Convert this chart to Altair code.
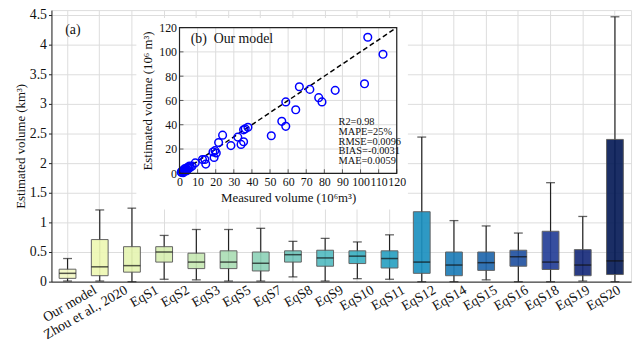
import altair as alt
import pandas as pd
import json

# ---- main box plot data (km^3) ----
cats = ["Our model", "Zhou et al., 2020", "EqS1", "EqS2", "EqS3", "EqS5", "EqS7", "EqS8",
        "EqS9", "EqS10", "EqS11", "EqS12", "EqS14", "EqS15", "EqS16", "EqS18", "EqS19", "EqS20"]
lo = [0.01, 0.01, 0.0, 0.04, 0.03, 0.01, 0.01, 0.08, 0.01, 0.05, 0.04, 0.0, 0.0, 0.03, 0.0, 0.0, 0.01, 0.0]
q1 = [0.055, 0.10, 0.16, 0.33, 0.22, 0.22, 0.18, 0.33, 0.26, 0.305, 0.23, 0.14, 0.10, 0.19, 0.26, 0.205, 0.10, 0.12]
med = [0.14, 0.25, 0.27, 0.50, 0.33, 0.33, 0.31, 0.455, 0.40, 0.43, 0.39, 0.33, 0.28, 0.32, 0.42, 0.33, 0.28, 0.35]
q3 = [0.21, 0.71, 0.59, 0.59, 0.48, 0.52, 0.50, 0.52, 0.53, 0.52, 0.52, 1.18, 0.50, 0.50, 0.53, 0.85, 0.54, 2.40]
hi = [0.39, 1.21, 1.24, 0.78, 0.88, 0.88, 0.90, 0.68, 0.73, 0.67, 0.79, 2.44, 1.03, 0.94, 0.82, 1.67, 1.10, 4.47]
colors = ["#f4f9c6", "#eef8b4", "#e6f5b2", "#d8efb3", "#c7e9b4", "#acdeb6", "#8fd3b9", "#72c7bc",
          "#55bcc2", "#3cb0c3", "#2ba1c2", "#1d91c0", "#1f7db8", "#2168ad", "#2353a1", "#253f97",
          "#182c7b", "#081d58"]
y_ticks = [0, 0.5, 1, 1.5, 2, 2.5, 3, 3.5, 4, 4.5]

# ---- inset scatter data (10^6 m^3) ----
measured = [104.0, 112.4, 102.2, 86.0, 72.0, 66.2, 76.9, 78.7, 58.7, 64.2, 56.5, 58.7, 50.7,
            37.8, 36.3, 35.4, 32.2, 35.4, 34.0, 23.8, 21.6, 28.4, 19.6, 18.5, 20.3, 19.1,
            14.0, 12.7, 14.5, 8.7,
            1.0, 1.5, 2.0, 2.5, 3.0, 3.0, 3.5, 4.0, 4.5, 5.0, 5.5, 6.0, 2.0, 1.0, 4.0, 7.0]
estimated = [112.0, 98.0, 73.7, 68.3, 69.1, 71.3, 62.3, 58.8, 58.8, 52.3, 42.8, 38.7, 30.9,
             37.9, 36.6, 35.8, 29.8, 26.0, 23.8, 31.4, 25.4, 22.8, 18.7, 17.6, 16.7, 13.0,
             11.4, 11.4, 7.6, 8.6,
             1.0, 2.0, 1.5, 3.0, 2.0, 4.0, 2.5, 3.5, 5.0, 4.0, 6.0, 5.0, 0.5, 0.8, 2.0, 6.0]
inset_x_ticks = [0, 10, 20, 30, 40, 50, 60, 70, 80, 90, 100, 110, 120]
inset_y_ticks = [0, 20, 40, 60, 80, 100, 120]
one_to_one = [0, 120]
stats_lines = ["R2=0.98", "MAPE=25%", "RMSE=0.0096", "BIAS=-0.0031", "MAE=0.0059"]

FONT = "Liberation Serif"

box_df = pd.DataFrame({"cat": cats, "lo": lo, "q1": q1, "med": med, "q3": q3, "hi": hi})
pts_df = pd.DataFrame({"m": measured, "e": estimated})
line_df = pd.DataFrame({"m": one_to_one, "e": one_to_one})
gx_df = pd.DataFrame({"v": inset_x_ticks})
gy_df = pd.DataFrame({"v": inset_y_ticks})
frame_df = pd.DataFrame({"x0": [one_to_one[0]], "x1": [one_to_one[1]],
                         "y0": [one_to_one[0]], "y1": [one_to_one[1]]})

label_shift = alt.ExprRef(expr="25 - 1.4*indexof(" + json.dumps(cats) + ", datum.value)")

xaxis = alt.Axis(title=None, labelAngle=-30, labelAlign="right", labelBaseline="top",
                 labelOffset=label_shift, labelPadding=1, ticks=False, grid=True,
                 bandPosition=0.5, gridColor="#dcdcdc", labelFont=FONT,
                 labelFontSize=14, labelColor="#111", domainColor="#222",
                 orient="bottom", labelOverlap=False)
xscale = alt.Scale(domain=cats, paddingInner=0, paddingOuter=0)
yscale = alt.Scale(domain=[0, 4.583], nice=False, zero=True)
yaxis = alt.Axis(title="Estimated volume (km³)", values=y_ticks, format=".1~f", grid=True,
                 gridColor="#dcdcdc", tickSize=3, labelPadding=2, labelFont=FONT,
                 labelFontSize=14, labelColor="#111", titleFont=FONT, titleFontSize=13,
                 titleFontWeight="normal", titleColor="#111", titlePadding=2,
                 domainColor="#222", tickColor="#222", orient="left", labelOverlap=False)


def X():
    return alt.X("cat:N", sort=cats, scale=xscale, axis=xaxis)


def Y(field):
    return alt.Y(field, scale=yscale, axis=yaxis)


base = alt.Chart(box_df)
whisk = base.mark_rule(color="#222", strokeWidth=1.2).encode(x=X(), y=Y("lo:Q"), y2="hi:Q")
cap_hi = base.mark_tick(color="#222", size=9, thickness=1.3).encode(x=X(), y=Y("hi:Q"))
cap_lo = base.mark_tick(color="#222", size=9, thickness=1.3).encode(x=X(), y=Y("lo:Q"))
boxes = base.mark_bar(size=17, stroke="#555", strokeWidth=1, opacity=0.92).encode(
    x=X(), y=Y("q1:Q"), y2="q3:Q",
    color=alt.Color("cat:N", scale=alt.Scale(domain=cats, range=colors), legend=None))
medians = base.mark_tick(color="#111", size=17, thickness=1.5).encode(x=X(), y=Y("med:Q"))
label_a = alt.Chart(frame_df).mark_text(text="(a)", font=FONT, fontSize=14, align="left",
                                        baseline="middle", color="#111").encode(
    x=alt.value(14), y=alt.value(20))

main = alt.layer(whisk, cap_hi, cap_lo, boxes, medians, label_a)

# ---- inset ----
ixs = alt.Scale(domain=[0, 120], nice=False, zero=False, range=[129.7, 349.7])
iys = alt.Scale(domain=[0, 120], nice=False, zero=False, range=[165.3, 17.7])
ixaxis = alt.Axis(title="Measured volume (10⁶m³)", values=inset_x_ticks, grid=False, ticks=False,
                  tickSize=0, domain=False, orient="bottom", offset=-109.7, labelFont=FONT,
                  labelFontSize=12, labelColor="#111", labelPadding=3, titleFont=FONT,
                  titleFontSize=13, titleFontWeight="normal", titleColor="#111",
                  titlePadding=5, zindex=2, labelFlush=False, labelOverlap=False)
iyaxis = alt.Axis(title="Estimated volume (10⁶ m³)", values=inset_y_ticks, grid=False, ticks=False,
                  tickSize=0, domain=False, orient="left", offset=-129.7, labelFont=FONT,
                  labelFontSize=12, labelColor="#111", labelPadding=3, titleFont=FONT,
                  titleFontSize=13, titleFontWeight="normal", titleColor="#111",
                  titlePadding=4, zindex=2, labelFlush=False, labelOverlap=False)

bg = alt.Chart(frame_df).mark_rect(fill="white").encode(
    x=alt.value(86), x2=alt.value(361), y=alt.value(8), y2=alt.value(202))
frame_fill = alt.Chart(frame_df).mark_rect(fill="white").encode(
    x=alt.X("x0:Q", scale=ixs, axis=ixaxis), x2="x1:Q",
    y=alt.Y("y0:Q", scale=iys, axis=iyaxis), y2="y1:Q")
gridx = alt.Chart(gx_df).mark_rule(color="#dcdcdc", strokeWidth=1).encode(
    x="v:Q", y=alt.datum(0), y2=alt.datum(120))
gridy = alt.Chart(gy_df).mark_rule(color="#dcdcdc", strokeWidth=1).encode(
    y="v:Q", x=alt.datum(0), x2=alt.datum(120))
tickx = alt.Chart(gx_df).mark_tick(color="#222", size=4, thickness=1, orient="vertical",
                                   yOffset=-2).encode(x="v:Q", y=alt.datum(0))
ticky = alt.Chart(gy_df).mark_tick(color="#222", size=4, thickness=1, orient="horizontal",
                                   xOffset=2).encode(y="v:Q", x=alt.datum(0))
frame_stroke = alt.Chart(frame_df).mark_rect(fill=None, stroke="#222", strokeWidth=1.2).encode(
    x="x0:Q", x2="x1:Q", y="y0:Q", y2="y1:Q")
dline = alt.Chart(line_df).mark_line(color="black", strokeDash=[5, 3], strokeWidth=1.5).encode(
    x="m:Q", y="e:Q")
pts = alt.Chart(pts_df).mark_point(shape="circle", filled=False, color="#0000ff", size=60,
                                   strokeWidth=1.5, opacity=1).encode(x="m:Q", y="e:Q")
label_b = alt.Chart(frame_df).mark_text(text="(b)\u00a0\u00a0Our model", font=FONT, fontSize=14,
                                        align="left", baseline="middle", color="#111").encode(
    x=alt.value(141), y=alt.value(29.5))
stats = alt.Chart(frame_df).mark_text(text=stats_lines, font=FONT, fontSize=10.5, align="left",
                                      baseline="middle", lineHeight=9.8, color="#111").encode(
    x=alt.value(290.7), y=alt.value(113.7))

inset = alt.layer(bg, frame_fill, gridx, gridy, dline, pts, tickx, ticky, frame_stroke, label_b, stats)

chart = alt.layer(main, inset).resolve_scale(
    x="independent", y="independent", color="independent").resolve_axis(
    x="independent", y="independent").properties(
    width=587, height=275,
    autosize=alt.AutoSizeParams(type="none"),
    padding={"left": 44, "top": 0, "right": 4, "bottom": 58},
).configure_view(stroke="#333", strokeWidth=1.2).configure(background="white")

chart.save("out.html", embed_options={"renderer": "svg", "actions": False})
